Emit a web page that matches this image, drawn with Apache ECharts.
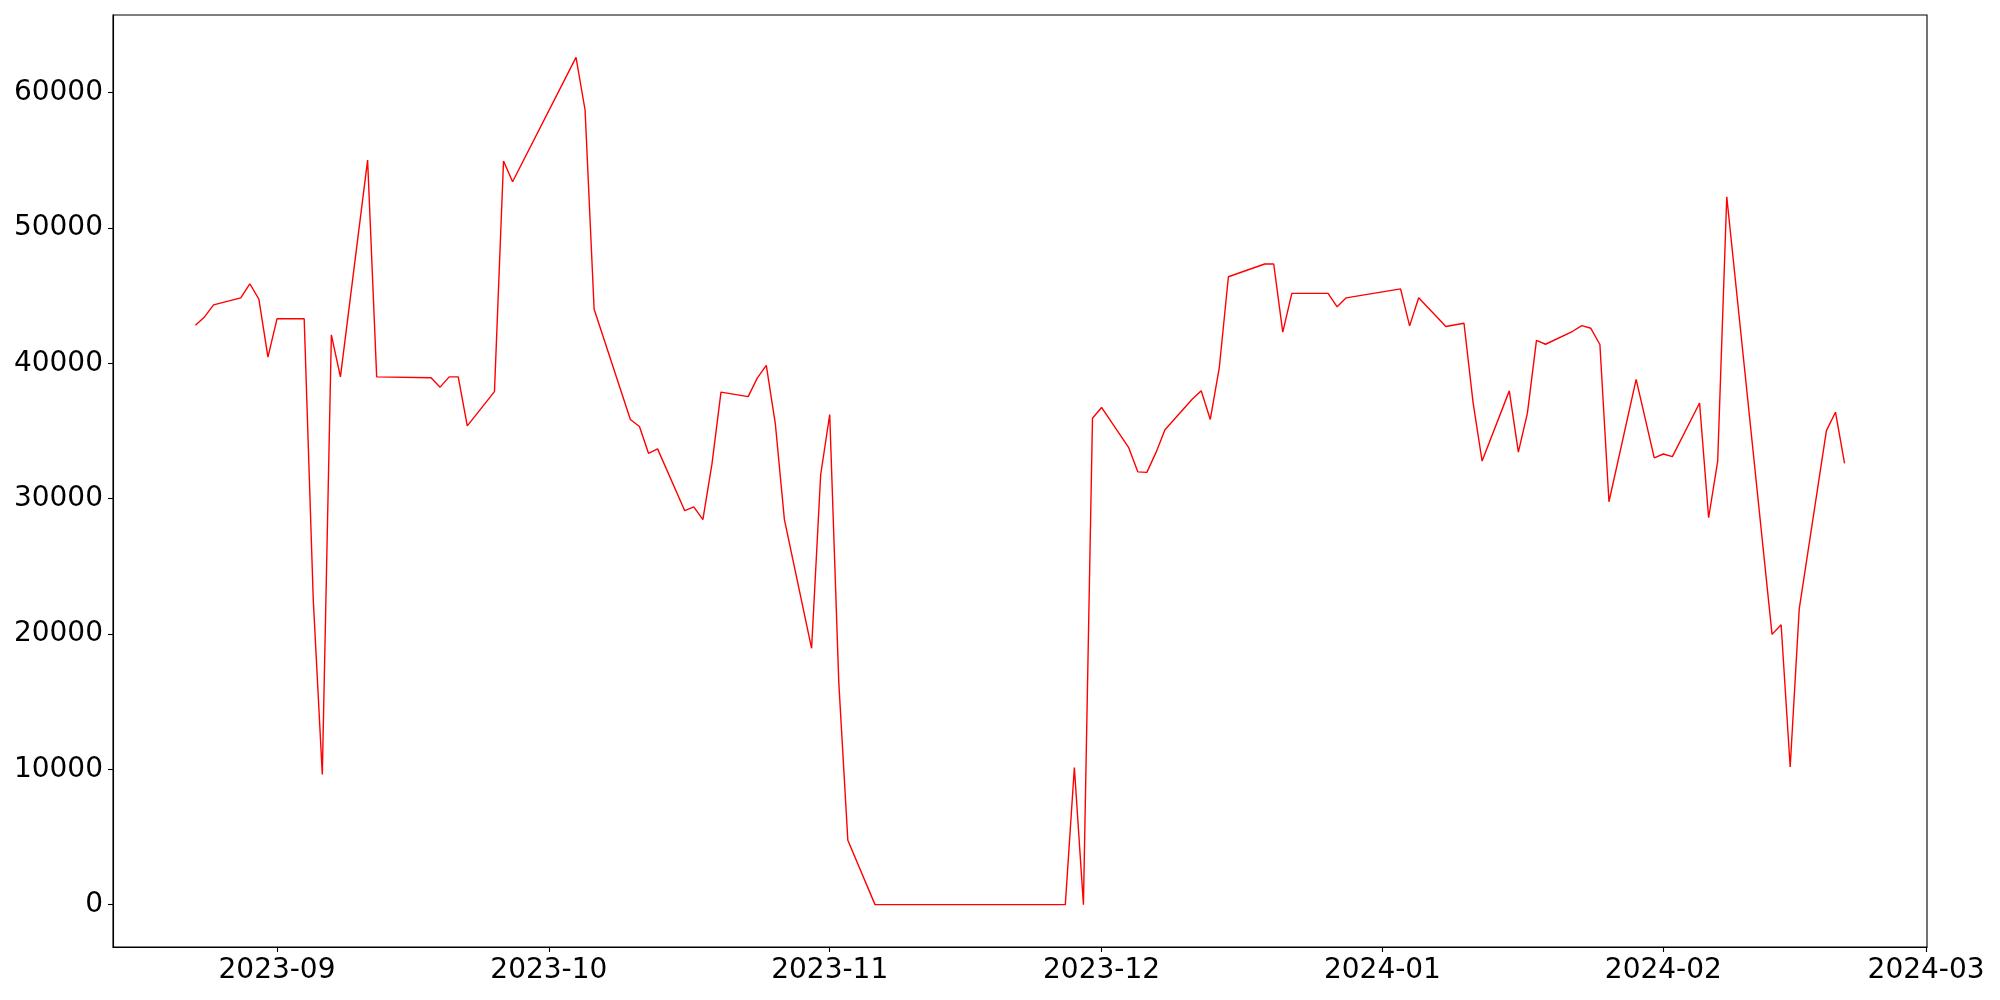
<!DOCTYPE html>
<html>
<head>
<meta charset="utf-8">
<script src="https://cdn.jsdelivr.net/npm/echarts@6/dist/echarts.min.js"></script>
<style>
  html, body { margin: 0; padding: 0; background: #fff; }
  #chart { width: 2000px; height: 1000px; }
</style>
</head>
<body>
<div id="chart"></div>
<script>
// daily values
var dates = [
  '2023-08-23', '2023-08-24', '2023-08-25', '2023-08-28', '2023-08-29', '2023-08-30', '2023-08-31',
  '2023-09-01', '2023-09-04', '2023-09-05', '2023-09-06', '2023-09-07', '2023-09-08',
  '2023-09-11', '2023-09-12', '2023-09-18', '2023-09-19', '2023-09-20', '2023-09-21', '2023-09-22',
  '2023-09-25', '2023-09-26', '2023-09-27', '2023-10-04', '2023-10-05', '2023-10-06',
  '2023-10-10', '2023-10-11', '2023-10-12', '2023-10-13', '2023-10-16', '2023-10-17', '2023-10-18',
  '2023-10-19', '2023-10-20', '2023-10-23', '2023-10-24', '2023-10-25', '2023-10-26', '2023-10-27',
  '2023-10-30', '2023-10-31', '2023-11-01', '2023-11-02', '2023-11-03', '2023-11-06',
  '2023-11-27', '2023-11-28', '2023-11-29', '2023-11-30', '2023-12-01',
  '2023-12-04', '2023-12-05', '2023-12-06', '2023-12-07', '2023-12-08',
  '2023-12-11', '2023-12-12', '2023-12-13', '2023-12-14', '2023-12-15',
  '2023-12-19', '2023-12-20', '2023-12-21', '2023-12-22', '2023-12-26', '2023-12-27', '2023-12-28',
  '2024-01-03', '2024-01-04', '2024-01-05', '2024-01-08', '2024-01-10', '2024-01-11', '2024-01-12',
  '2024-01-15', '2024-01-16', '2024-01-17', '2024-01-18', '2024-01-19',
  '2024-01-22', '2024-01-23', '2024-01-24', '2024-01-25', '2024-01-26',
  '2024-01-29', '2024-01-31', '2024-02-01', '2024-02-02',
  '2024-02-05', '2024-02-06', '2024-02-07', '2024-02-08', '2024-02-13', '2024-02-14', '2024-02-15', '2024-02-16',
  '2024-02-19', '2024-02-20', '2024-02-21'
];
var values = [
  42820, 43430, 44320, 44840, 45880, 44750, 40460,
  43290, 43290, 22560, 9610, 42110, 39000,
  55020, 39000, 38940, 38240, 39000, 39000, 35380,
  37910, 54950, 53420, 62610, 58720, 44000,
  35850, 35330, 33350, 33680, 29110, 29390, 28450,
  32550, 37870, 37540, 38910, 39850, 35520, 28450,
  18940, 31750, 36220, 16440, 4760, 0,
  0, 10130, 0, 35940, 36740,
  33770, 31980, 31940, 33400, 35090,
  37350, 37970, 35850, 39710, 46400,
  47340, 47340, 42300, 45170, 45170, 44180, 44840,
  45500, 42770, 44840, 42720, 42960, 37120, 32780,
  37965, 33440, 36320, 41700, 41410,
  42370, 42790, 42590, 41390, 29770,
  38820, 33020, 33300, 33110,
  37070, 28590, 32780, 52310, 19970, 20680, 10170, 21860,
  35030, 36390, 32600
];
var monthTicks = ['2023-09-01', '2023-10-01', '2023-11-01', '2023-12-01', '2024-01-01', '2024-02-01', '2024-03-01'];
var yTicks = [0, 10000, 20000, 30000, 40000, 50000, 60000];

function toTime(s) {
  var p = s.split('-');
  return new Date(+p[0], +p[1] - 1, +p[2]).getTime();
}
function pad(n) { return n < 10 ? '0' + n : '' + n; }

var times = dates.map(toTime);
var seriesData = times.map(function (t, i) { return [t, values[i]]; });
var monthTimes = monthTicks.map(toTime);

// matplotlib style 5% margins
var tMin = times[0], tMax = times[times.length - 1];
var tPad = (tMax - tMin) * 0.05;
var vMin = Math.min.apply(null, values), vMax = Math.max.apply(null, values);
var vPad = (vMax - vMin) * 0.05;

var chart = echarts.init(document.getElementById('chart'));
var font = 'DejaVu Sans';

var option = {
  animation: false,
  backgroundColor: '#fff',
  grid: {
    left: 113, right: 73, top: 15, bottom: 53,
    show: true, borderColor: '#000', borderWidth: 1.1, backgroundColor: 'transparent'
  },
  xAxis: {
    type: 'value',
    min: tMin - tPad,
    max: tMax + tPad,
    axisLine: { show: true, onZero: false, lineStyle: { color: '#000', width: 1.1 } },
    axisTick: { show: true, inside: false, length: 5, lineStyle: { color: '#000', width: 1.1 },
      customValues: monthTimes },
    axisLabel: {
      show: true, margin: 10, color: '#000', fontFamily: font, fontSize: 28,
      customValues: monthTimes,
      hideOverlap: false,
      formatter: function (v) {
        var d = new Date(v);
        return d.getFullYear() + '-' + pad(d.getMonth() + 1);
      }
    },
    splitLine: { show: false }
  },
  yAxis: {
    type: 'value',
    min: vMin - vPad,
    max: vMax + vPad,
    axisLine: { show: true, onZero: false, lineStyle: { color: '#000', width: 1.1 } },
    axisTick: { show: true, inside: false, length: 5, lineStyle: { color: '#000', width: 1.1 },
      customValues: yTicks },
    axisLabel: {
      show: true, margin: 10, color: '#000', fontFamily: font, fontSize: 28,
      customValues: yTicks,
      formatter: function (v) { return String(v); }
    },
    splitLine: { show: false }
  },
  series: [
    {
      type: 'line',
      data: seriesData,
      showSymbol: false,
      symbol: 'none',
      lineStyle: { color: '#ff0000', width: 1.4 },
      itemStyle: { color: '#ff0000' }
    }
  ]
};
chart.setOption(option);
window.addEventListener('resize', function () { chart.resize(); });
</script>
</body>
</html>
